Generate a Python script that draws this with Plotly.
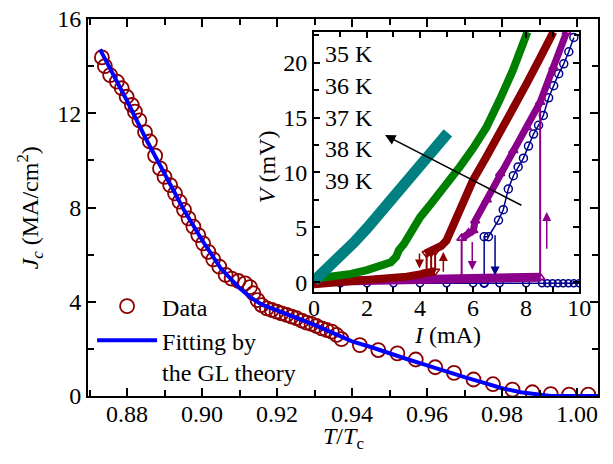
import plotly.graph_objects as go

# ---------------- main panel data ----------------
T_data = [0.8733, 0.8741, 0.8755, 0.8773, 0.8786, 0.8799, 0.8813, 0.8821, 0.8833, 0.8848,
          0.8861, 0.8875, 0.8888, 0.8900, 0.8915, 0.8928, 0.8940, 0.8952, 0.8964, 0.8977,
          0.8990, 0.9003, 0.9017, 0.9030, 0.9046, 0.9063, 0.9079, 0.9097, 0.9115, 0.9128,
          0.9137, 0.9148, 0.9159, 0.9173, 0.9186, 0.9199, 0.9212, 0.9226, 0.9239, 0.9252,
          0.9266, 0.9279, 0.9292, 0.9305, 0.9319, 0.9332, 0.9346, 0.9359, 0.9372, 0.9421,
          0.9470, 0.9521, 0.9570, 0.9622, 0.9672, 0.9724, 0.9776, 0.9828, 0.9881, 0.9930,
          0.9979, 1.0030]
Jc_data = [14.37, 14.00, 13.62, 13.34, 13.06, 12.70, 12.35, 12.07, 11.70, 11.20,
           10.80, 10.20, 9.66, 9.30, 8.95, 8.60, 8.25, 7.90, 7.54, 7.19,
           6.83, 6.48, 6.12, 5.80, 5.49, 5.14, 4.98, 4.88, 4.78, 4.62,
           4.36, 4.07, 3.86, 3.72, 3.65, 3.58, 3.51, 3.44, 3.37, 3.30,
           3.20, 3.11, 3.06, 2.97, 2.87, 2.80, 2.73, 2.59, 2.41, 2.16,
           1.95, 1.81, 1.55, 1.22, 0.98, 0.70, 0.50, 0.27, 0.16, 0.08,
           0.06, 0.06]

T_fit = [0.8728, 0.8760, 0.8800, 0.8850, 0.8900, 0.8950, 0.9000, 0.9050, 0.9100, 0.9130,
         0.9160, 0.9200, 0.9250, 0.9300, 0.9350, 0.9400, 0.9450, 0.9500, 0.9550, 0.9600,
         0.9650, 0.9700, 0.9750, 0.9800, 0.9850, 0.9900, 0.9930, 1.0060]
Jc_fit = [14.71, 13.75, 12.53, 10.93, 9.40, 7.95, 6.62, 5.42, 4.58, 4.18,
          3.88, 3.62, 3.33, 3.02, 2.67, 2.32, 2.08, 1.80, 1.55, 1.30,
          1.03, 0.80, 0.57, 0.33, 0.16, 0.04, 0.0, 0.0]

# ---------------- inset data (I in mA, V in mV) ----------------
# 39 K (teal)
I_39 = [0.0, 0.5, 1.0, 1.5, 2.0, 2.5, 3.0, 3.5, 4.0, 4.5, 5.05]
V_39 = [0.1, 1.2, 2.4, 3.6, 4.9, 6.3, 7.7, 9.1, 10.6, 12.0, 13.6]
# 38 K (green)
I_38 = [0.0, 0.7, 1.4, 2.0, 2.5, 2.9, 3.1, 3.2, 3.4, 3.7, 4.0, 4.4, 4.75, 5.1, 5.5, 6.0, 6.5, 7.0, 7.5, 8.05]
V_38 = [0.3, 0.5, 0.75, 1.1, 1.45, 1.8, 2.3, 2.9, 3.5, 4.7, 5.9, 7.1, 8.1, 9.2, 10.5, 12.2, 14.1, 16.6, 19.3, 22.8]
# 37 K (dark red)
I_37_flat = [0.0, 1.0, 2.0, 3.0, 3.5, 4.0, 4.3, 4.55]
V_37_flat = [-0.2, -0.05, 0.1, 0.35, 0.5, 0.7, 0.85, 1.0]
I_37_jump = [4.25, 4.25, None, 4.42, 4.42, None, 4.57, 4.57]
V_37_jump = [0.9, 2.6, None, 0.95, 2.7, None, 1.0, 2.8]
I_37 = [4.2, 4.4, 4.6, 4.8, 5.0, 5.2, 5.4, 5.7, 6.0, 6.5, 7.0, 7.5, 8.0, 8.5, 9.03]
V_37 = [2.6, 2.8, 2.95, 3.3, 3.8, 4.9, 6.2, 7.8, 9.3, 11.4, 13.5, 15.6, 18.0, 20.3, 22.8]
# 36 K (purple)
I_36_flat = [0.0, 2.0, 4.0, 6.0, 8.0, 8.55]
V_36_flat = [0.05, 0.1, 0.2, 0.3, 0.4, 0.45]
I_36_jump = [5.57, 5.57, None, 8.53, 8.53]
V_36_jump = [0.3, 4.0, None, 0.45, 16.4]
I_36 = [5.57, 5.83, 6.01, 6.08, 6.52, 7.02, 7.52, 8.03, 8.53, 9.03, 9.53]
V_36 = [4.0, 4.5, 4.7, 5.6, 7.5, 9.9, 12.0, 14.1, 16.4, 19.6, 22.8]
# 35 K (navy)
I_35_flat = [0.0, 1.0, 2.0, 3.0, 4.0, 5.0, 6.0, 6.42, 7.0, 8.0, 8.6, 8.8, 9.0, 9.2, 9.4, 9.6, 9.8, 10.0]
V_35_flat = [-0.1] * 18
I_35 = [6.42, 6.42, 6.58, 6.96, 7.14, 7.33, 7.52, 7.70, 7.90, 8.09, 8.28, 8.47, 8.65, 8.85, 9.04, 9.23, 9.42, 9.61, 9.80]
V_35 = [-0.1, 4.14, 4.14, 5.64, 6.6, 8.5, 9.7, 10.5, 11.3, 12.4, 13.5, 14.3, 15.2, 16.8, 17.9, 19.0, 19.9, 21.0, 22.3]

temps = ["35 K", "36 K", "37 K", "38 K", "39 K"]
temp_label_V = [20.8, 17.9, 15.0, 12.1, 9.2]

# sweep-direction arrows: (I, V tail, V head, color)
arrow_I = [3.98, 4.88, 5.97, 8.78, 6.83]
arrow_V0 = [2.75, 0.8, 3.8, 2.9, 4.4]
arrow_V1 = [1.25, 2.75, 1.1, 6.4, 0.6]
arrow_col = ["#8B0000", "#8B0000", "#8B008B", "#8B008B", "#00008B"]

C_TEAL = "#008080"
C_GREEN = "#008000"
C_RED = "#8B0000"
C_PURP = "#8B008B"
C_NAVY = "#00008B"

FONT = "Liberation Serif, Times New Roman, serif"

fig = go.Figure()

fig.add_trace(go.Scatter(x=T_data, y=Jc_data, mode="markers", name="Data",
                         marker=dict(symbol="circle-open", size=14, color="#8B0000",
                                     line=dict(width=1.8, color="#8B0000"))))
fig.add_trace(go.Scatter(x=T_fit, y=Jc_fit, mode="lines", name="Fitting by<br>the GL theory",
                         line=dict(color="#0000FF", width=4)))

ins = dict(xaxis="x2", yaxis="y2", showlegend=False)
# 35 K
fig.add_trace(go.Scatter(x=I_35_flat, y=V_35_flat, mode="lines+markers",
                         line=dict(color=C_NAVY, width=1.5),
                         marker=dict(symbol="circle-open", size=7, color=C_NAVY, line=dict(width=1.5)), **ins))
fig.add_trace(go.Scatter(x=I_35, y=V_35, mode="lines+markers",
                         line=dict(color=C_NAVY, width=1.5),
                         marker=dict(symbol="circle-open", size=8, color=C_NAVY, line=dict(width=1.5)), **ins))
# 36 K
fig.add_trace(go.Scatter(x=I_36_flat, y=V_36_flat, mode="lines",
                         line=dict(color=C_PURP, width=9), **ins))
fig.add_trace(go.Scatter(x=I_36_jump, y=V_36_jump, mode="lines+markers",
                         line=dict(color=C_PURP, width=2),
                         marker=dict(symbol="triangle-up-open", size=8, color=C_PURP, line=dict(width=1.5)), **ins))
fig.add_trace(go.Scatter(x=I_36, y=V_36, mode="lines+markers",
                         line=dict(color=C_PURP, width=7),
                         marker=dict(symbol="triangle-up-open", size=8, color=C_PURP, line=dict(width=1.5)), **ins))
# 37 K
fig.add_trace(go.Scatter(x=I_37_flat, y=V_37_flat, mode="lines",
                         line=dict(color=C_RED, width=8), **ins))
fig.add_trace(go.Scatter(x=I_37_jump, y=V_37_jump, mode="lines+markers",
                         line=dict(color=C_RED, width=2),
                         marker=dict(symbol="triangle-down-open", size=8, color=C_RED, line=dict(width=1.5)), **ins))
fig.add_trace(go.Scatter(x=I_37, y=V_37, mode="lines",
                         line=dict(color=C_RED, width=8), **ins))
# 38 K
fig.add_trace(go.Scatter(x=I_38, y=V_38, mode="lines",
                         line=dict(color=C_GREEN, width=8), **ins))
# 39 K
fig.add_trace(go.Scatter(x=I_39, y=V_39, mode="lines",
                         line=dict(color=C_TEAL, width=11), **ins))

annotations = []
for lab, v in zip(temps, temp_label_V):
    annotations.append(dict(x=0.35, y=v, xref="x2", yref="y2", text=lab, showarrow=False,
                            xanchor="left", yanchor="middle", font=dict(size=24, color="black")))
# main black arrow
annotations.append(dict(x=2.68, y=13.4, ax=7.88, ay=6.94, xref="x2", yref="y2", axref="x2", ayref="y2",
                        text="", showarrow=True, arrowhead=2, arrowsize=1.3, arrowwidth=1.6,
                        arrowcolor="black"))
for xi, v0, v1, c in zip(arrow_I, arrow_V0, arrow_V1, arrow_col):
    annotations.append(dict(x=xi, y=v1, ax=xi, ay=v0, xref="x2", yref="y2", axref="x2", ayref="y2",
                            text="", showarrow=True, arrowhead=2, arrowsize=1.2, arrowwidth=1.5,
                            arrowcolor=c))
# axis titles
annotations.append(dict(x=0.5, y=-0.111, xref="paper", yref="paper", showarrow=False,
                        text="<i>T</i>/<i>T</i><sub>c</sub>", xanchor="center", yanchor="middle",
                        font=dict(size=24)))
annotations.append(dict(x=-0.114, y=0.5, xref="paper", yref="paper", showarrow=False, textangle=-90,
                        text="<i>J</i><sub><i>c</i></sub> (MA/cm<sup>2</sup>)", xanchor="center",
                        yanchor="middle", font=dict(size=24)))
annotations.append(dict(x=0.351, y=0.607, xref="paper", yref="paper", showarrow=False, textangle=-90,
                        text="<i>V</i> (mV)", xanchor="center", yanchor="middle", font=dict(size=24)))
annotations.append(dict(x=0.704, y=0.163, xref="paper", yref="paper", showarrow=False,
                        text="<i>I</i> (mA)", xanchor="center", yanchor="middle", font=dict(size=24)))

axis_common = dict(showline=True, linewidth=2, linecolor="black", mirror="ticks", automargin=False,
                   ticks="inside", tickcolor="black", tickwidth=1.5, showgrid=False, zeroline=False,
                   ticklabeloverflow="allow")

fig.update_layout(
    width=605, height=456,
    margin=dict(l=80, r=15, t=11, b=68, autoexpand=False),
    paper_bgcolor="white", plot_bgcolor="white",
    font=dict(family=FONT, size=24, color="black"),
    showlegend=True,
    legend=dict(x=0.008, y=0.297, xanchor="left", yanchor="top", bgcolor="rgba(0,0,0,0)",
                itemwidth=60, valign="top", font=dict(size=24), tracegroupgap=0),
    xaxis=dict(range=[0.8696, 1.0056], tick0=0.88, dtick=0.02, tickformat=".2f", ticklen=8,
               ticklabelstandoff=-5,
               minor=dict(dtick=0.01, ticks="inside", ticklen=6, tickcolor="black", tickwidth=1.5),
               **axis_common),
    yaxis=dict(range=[0, 16], tick0=0, dtick=4, ticklen=8,
               minor=dict(dtick=2, ticks="inside", ticklen=6, tickcolor="black", tickwidth=1.5),
               **axis_common),
    xaxis2=dict(domain=[0.443, 0.963], anchor="y2", range=[0, 10], tick0=0, dtick=2, ticklen=6,
                ticklabelstandoff=-7,
                minor=dict(dtick=1, ticks="inside", ticklen=5, tickcolor="black", tickwidth=1.5),
                **axis_common),
    yaxis2=dict(domain=[0.2759, 0.9655], anchor="x2", range=[-0.9, 22.8], tick0=0, dtick=5, ticklen=6,
                minor=dict(dtick=2.5, ticks="inside", ticklen=5, tickcolor="black", tickwidth=1.5),
                **axis_common),
    annotations=annotations,
)

fig.write_html("out.html")
